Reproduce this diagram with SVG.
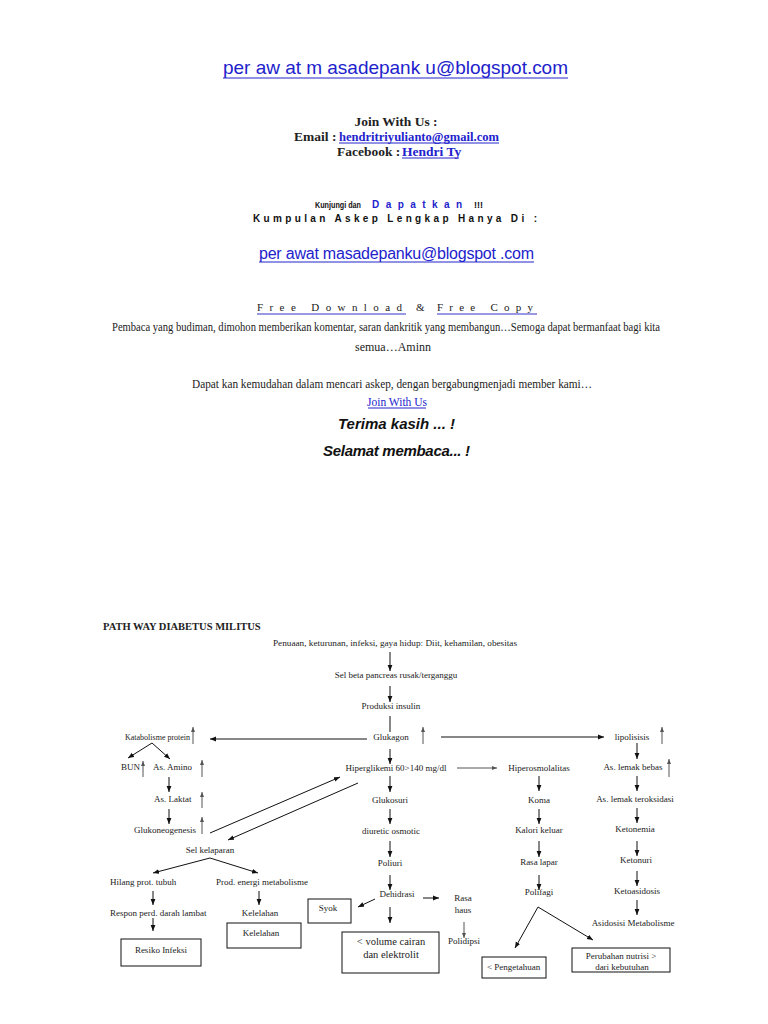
<svg xmlns="http://www.w3.org/2000/svg" width="768" height="1024" viewBox="0 0 768 1024">
<style>
.t{font-family:"Liberation Serif","Times New Roman",serif;font-size:9px;fill:#222}
.s{font-family:"Liberation Serif","Times New Roman",serif;font-size:8px;fill:#222}
.ser{font-family:"Liberation Serif","Times New Roman",serif;fill:#222}
.sans{font-family:"Liberation Sans",Arial,sans-serif}
.link{fill:#2222cc}
.ul{stroke:#2222cc;stroke-width:1}
.a{stroke:#111;stroke-width:1;fill:none;marker-end:url(#ah)}
.g{stroke:#555;stroke-width:1;fill:none;marker-end:url(#ah2)}
.box{fill:#fff;stroke:#111;stroke-width:1}
</style>
<defs>
<marker id="ah" viewBox="0 0 10 10" refX="10" refY="5" markerWidth="6" markerHeight="6" markerUnits="userSpaceOnUse" orient="auto"><path d="M0,1 L10,5 L0,9 z" fill="#111"/></marker>
<marker id="ah2" viewBox="0 0 10 10" refX="10" refY="5" markerWidth="5" markerHeight="5" markerUnits="userSpaceOnUse" orient="auto"><path d="M0,1 L10,5 L0,9 z" fill="#555"/></marker>
</defs>
<rect width="768" height="1024" fill="#fff"/>

<!-- header -->
<g id="header">
<text class="sans link" x="223" y="74" font-size="19" textLength="345" lengthAdjust="spacing">per aw at m asadepank u@blogspot.com</text>
<line class="ul" x1="223" y1="78" x2="568" y2="78" stroke-width="1.2"/>
<text class="ser" x="396" y="126" font-size="13.5" font-weight="bold" text-anchor="middle">Join With Us :</text>
<text class="ser" x="294" y="141" font-size="13.5" font-weight="bold">Email : </text>
<text class="ser link" x="339" y="141" font-size="13.5" font-weight="bold" textLength="160" lengthAdjust="spacingAndGlyphs">hendritriyulianto@gmail.com</text>
<line class="ul" x1="339" y1="143" x2="499" y2="143"/>
<text class="ser" x="337" y="156" font-size="13.5" font-weight="bold">Facebook : </text>
<text class="ser link" x="402" y="156" font-size="13.5" font-weight="bold">Hendri Ty</text>
<line class="ul" x1="402" y1="158" x2="459" y2="158"/>
<text class="sans" transform="translate(315,208) scale(1,1.35)" x="0" y="0" font-size="7.2" font-weight="bold" fill="#111">Kunjungi dan</text>
<text class="sans" x="372" y="208" font-size="10" font-weight="bold" fill="#2222cc" textLength="90" lengthAdjust="spacing">Dapatkan</text>
<text class="sans" x="474" y="208" font-size="9" font-weight="bold" fill="#111">!!!</text>
<text class="sans" x="253" y="222" font-size="10" font-weight="bold" fill="#111" textLength="284" lengthAdjust="spacing">Kumpulan Askep Lengkap Hanya Di :</text>
<text class="sans link" x="259" y="259" font-size="16" textLength="275" lengthAdjust="spacing">per awat masadepanku@blogspot .com</text>
<line class="ul" x1="259" y1="262" x2="534" y2="262"/>
<text class="ser" x="257" y="311" font-size="11" fill="#3333cc" textLength="145" lengthAdjust="spacing">Free Download</text>
<line x1="257" y1="314" x2="406" y2="314" stroke="#3333cc" stroke-width="1.2"/>
<text class="ser" x="416" y="311" font-size="11" fill="#e03030">&amp;</text>
<text class="ser" x="437" y="311" font-size="11" fill="#3333cc" textLength="96" lengthAdjust="spacing">Free Copy</text>
<line x1="437" y1="314" x2="537" y2="314" stroke="#3333cc" stroke-width="1.2"/>
<text class="ser" x="112" y="331" font-size="12" textLength="548" lengthAdjust="spacingAndGlyphs">Pembaca yang budiman, dimohon memberikan komentar, saran dankritik yang membangun…Semoga dapat bermanfaat bagi kita</text>
<text class="ser" x="393" y="351" font-size="12" text-anchor="middle">semua…Aminn</text>
<text class="ser" x="192" y="388" font-size="12" textLength="400" lengthAdjust="spacingAndGlyphs">Dapat kan kemudahan dalam mencari askep, dengan bergabungmenjadi member kami…</text>
<text class="ser link" x="397" y="406" font-size="11.5" text-anchor="middle">Join With Us</text>
<line class="ul" x1="368" y1="408" x2="426" y2="408"/>
<text class="sans" x="338" y="429" font-size="15" font-weight="bold" font-style="italic" fill="#111" textLength="117" lengthAdjust="spacing">Terima kasih ... !</text>
<text class="sans" x="323" y="456" font-size="15" font-weight="bold" font-style="italic" fill="#111" textLength="147" lengthAdjust="spacing">Selamat membaca... !</text>
</g>

<text class="ser" x="103" y="630" font-size="10.5" font-weight="bold" fill="#111">PATH WAY DIABETUS MILITUS</text>

<!-- connectors -->
<g id="connectors">
<line class="a" x1="390" y1="652" x2="390" y2="671"/>
<line class="a" x1="390" y1="686" x2="390" y2="702"/>
<line x1="390" y1="716" x2="390" y2="732" stroke="#111"/>
<line class="a" x1="367" y1="739" x2="210" y2="739"/>
<line class="a" x1="441" y1="737" x2="604" y2="737"/>
<line class="g" x1="423" y1="744" x2="423" y2="727"/>
<line class="g" x1="193" y1="744" x2="193" y2="727"/>
<line class="g" x1="662" y1="744" x2="662" y2="727"/>
<line class="a" x1="152" y1="743" x2="128" y2="758"/>
<line class="a" x1="152" y1="743" x2="170" y2="759"/>
<line class="g" x1="143" y1="777" x2="143" y2="761"/>
<line class="g" x1="202" y1="777" x2="202" y2="760"/>
<line class="a" x1="169" y1="777" x2="169" y2="792"/>
<line class="g" x1="202" y1="808" x2="202" y2="792"/>
<line class="a" x1="169" y1="809" x2="169" y2="824"/>
<line class="g" x1="202" y1="834" x2="202" y2="817"/>
<line class="a" x1="210" y1="833" x2="340" y2="777"/>
<line class="a" x1="358" y1="783" x2="228" y2="840"/>
<line class="a" x1="210" y1="858" x2="153" y2="873"/>
<line class="a" x1="210" y1="858" x2="258" y2="873"/>
<line class="a" x1="153" y1="891" x2="153" y2="905"/>
<line class="a" x1="153" y1="918" x2="153" y2="931"/>
<line class="a" x1="259" y1="891" x2="259" y2="905"/>
<line class="a" x1="390" y1="749" x2="390" y2="764"/>
<line class="g" x1="457" y1="768" x2="497" y2="768"/>
<line class="a" x1="390" y1="776" x2="390" y2="792"/>
<line class="a" x1="390" y1="809" x2="390" y2="824"/>
<line class="a" x1="390" y1="841" x2="390" y2="857"/>
<line class="a" x1="390" y1="875" x2="390" y2="890"/>
<line class="a" x1="423" y1="898" x2="439" y2="898"/>
<line class="a" x1="375" y1="899" x2="358" y2="907"/>
<line class="a" x1="390" y1="907" x2="390" y2="923"/>
<line class="g" x1="464" y1="922" x2="464" y2="938"/>
<line class="a" x1="539" y1="776" x2="539" y2="791"/>
<line class="a" x1="539" y1="809" x2="539" y2="824"/>
<line class="a" x1="539" y1="841" x2="539" y2="857"/>
<line class="a" x1="539" y1="875" x2="539" y2="890"/>
<line class="a" x1="538" y1="907" x2="515" y2="948"/>
<line class="a" x1="538" y1="907" x2="593" y2="940"/>
<line class="a" x1="637" y1="743" x2="637" y2="759"/>
<line class="g" x1="669" y1="777" x2="669" y2="759"/>
<line class="a" x1="637" y1="776" x2="637" y2="791"/>
<line class="a" x1="637" y1="808" x2="637" y2="823"/>
<line class="a" x1="637" y1="841" x2="637" y2="856"/>
<line class="a" x1="637" y1="871" x2="637" y2="886"/>
<line class="a" x1="637" y1="900" x2="637" y2="915"/>
</g>

<!-- nodes -->
<g id="n-penuaan"><text class="t" x="395" y="646" text-anchor="middle" textLength="244" lengthAdjust="spacingAndGlyphs">Penuaan, keturunan, infeksi, gaya hidup: Diit, kehamilan, obesitas</text></g>
<g id="n-selbeta"><text class="t" x="396" y="678" text-anchor="middle">Sel beta pancreas rusak/terganggu</text></g>
<g id="n-produksi"><text class="t" x="391" y="709" text-anchor="middle">Produksi insulin</text></g>
<g id="n-glukagon"><text class="t" x="391" y="740" text-anchor="middle">Glukagon</text></g>
<g id="n-katabolisme"><text class="s" x="125" y="740">Katabolisme protein</text></g>
<g id="n-lipolisis"><text class="t" x="632" y="740" text-anchor="middle">lipolisisis</text></g>
<g id="n-bun"><text class="t" x="121" y="770">BUN</text></g>
<g id="n-amino"><text class="t" x="153" y="770">As. Amino</text></g>
<g id="n-laktat"><text class="t" x="154" y="802">As. Laktat</text></g>
<g id="n-glukoneo"><text class="t" x="134" y="833">Glukoneogenesis</text></g>
<g id="n-hiperglikemi"><text class="t" x="396" y="771" text-anchor="middle">Hiperglikemi 60&gt;140 mg/dl</text></g>
<g id="n-hiperosmo"><text class="t" x="539" y="771" text-anchor="middle">Hiperosmolalitas</text></g>
<g id="n-lemakbebas"><text class="t" x="633" y="770" text-anchor="middle">As. lemak bebas</text></g>
<g id="n-glukosuri"><text class="t" x="390" y="803" text-anchor="middle">Glukosuri</text></g>
<g id="n-koma"><text class="t" x="539" y="803" text-anchor="middle">Koma</text></g>
<g id="n-teroksidasi"><text class="t" x="635" y="802" text-anchor="middle">As. lemak teroksidasi</text></g>
<g id="n-diuretic"><text class="t" x="391" y="834" text-anchor="middle">diuretic osmotic</text></g>
<g id="n-kalori"><text class="t" x="539" y="833" text-anchor="middle">Kalori keluar</text></g>
<g id="n-ketonemia"><text class="t" x="635" y="832" text-anchor="middle">Ketonemia</text></g>
<g id="n-kelaparan"><text class="t" x="210" y="853" text-anchor="middle">Sel kelaparan</text></g>
<g id="n-poliuri"><text class="t" x="390" y="866" text-anchor="middle">Poliuri</text></g>
<g id="n-rasalapar"><text class="t" x="539" y="865" text-anchor="middle">Rasa lapar</text></g>
<g id="n-ketonuri"><text class="t" x="636" y="863" text-anchor="middle">Ketonuri</text></g>
<g id="n-hilang"><text class="t" x="110" y="885">Hilang prot. tubuh</text></g>
<g id="n-prodenergi"><text class="t" x="216" y="885">Prod. energi metabolisme</text></g>
<g id="n-dehidrasi"><text class="t" x="397" y="897" text-anchor="middle">Dehidrasi</text></g>
<g id="n-rasahaus"><text class="t" x="463" y="901" text-anchor="middle">Rasa</text><text class="t" x="463" y="913" text-anchor="middle">haus</text></g>
<g id="n-polifagi"><text class="t" x="539" y="895" text-anchor="middle">Polifagi</text></g>
<g id="n-ketoasidosis"><text class="t" x="637" y="894" text-anchor="middle">Ketoasidosis</text></g>
<g id="n-asidosis"><text class="t" x="633" y="926" text-anchor="middle">Asidosisi Metabolisme</text></g>
<g id="n-respon"><text class="t" x="110" y="916">Respon perd. darah lambat</text></g>
<g id="n-kelelahan1"><text class="t" x="260" y="916" text-anchor="middle">Kelelahan</text></g>
<g id="n-syok"><rect class="box" x="308" y="899" width="43" height="24"/><text class="t" x="328" y="911" text-anchor="middle">Syok</text></g>
<g id="n-kelelahan2"><rect class="box" x="227" y="923" width="74" height="25"/><text class="t" x="261" y="936" text-anchor="middle">Kelelahan</text></g>
<g id="n-resiko"><rect class="box" x="121" y="939" width="80" height="27"/><text class="t" x="161" y="953" text-anchor="middle">Resiko Infeksi</text></g>
<g id="n-volume"><rect class="box" x="342" y="932" width="97" height="41"/><text class="ser" x="391" y="945" font-size="10.5" text-anchor="middle">&lt; volume cairan</text><text class="ser" x="391" y="958" font-size="10.5" text-anchor="middle">dan elektrolit</text></g>
<g id="n-polidipsi"><text class="t" x="464" y="944" text-anchor="middle">Polidipsi</text></g>
<g id="n-pengetahuan"><rect class="box" x="482" y="957" width="64" height="21"/><text class="t" x="487" y="970">&lt; Pengetahuan</text></g>
<g id="n-perubahan"><rect class="box" x="572" y="948" width="98" height="24"/><text class="t" x="621" y="959" text-anchor="middle">Perubahan nutrisi &gt;</text><text class="t" x="622" y="970" text-anchor="middle">dari kebutuhan</text></g>
</svg>
